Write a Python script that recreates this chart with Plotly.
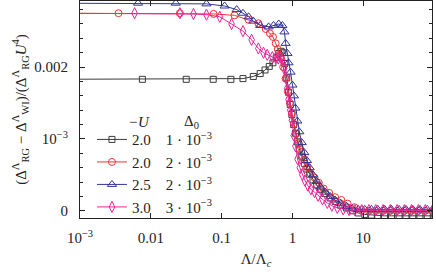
import plotly.graph_objects as go

# ---- data ----
lam_1 = [0.0004, 0.0076, 0.0316, 0.076, 0.135, 0.2, 0.28, 0.35, 0.41, 0.47, 0.53, 0.59, 0.64, 0.69, 0.73,
         0.78, 0.83, 0.88, 0.93, 0.98, 1.04, 1.1, 1.17, 1.25, 1.35, 1.47, 1.6, 1.75, 1.95, 2.2, 2.5, 2.9,
         3.4, 4.0, 4.8, 5.8, 7.0, 8.5, 10.5, 13, 16, 20, 25, 32, 40, 50, 63, 80, 100]
val_1 = [0.00183, 0.00183, 0.00183, 0.00183, 0.00183, 0.00184, 0.00187, 0.00191, 0.00196, 0.00201, 0.00206,
         0.00213, 0.00219, 0.00222, 0.00220, 0.00205, 0.00185, 0.00165, 0.00148, 0.00134, 0.00120, 0.00108,
         0.00096, 0.00086, 0.00076, 0.00066, 0.00058, 0.00051, 0.00043, 0.00036, 0.00030, 0.00024, 0.00018,
         0.00013, 0.00008, 0.00004, 0.00000, -0.00003, -0.00005, -0.00006, -0.00007, -0.00007, -0.00007,
         -0.00007, -0.00007, -0.00007, -0.00007, -0.00007, -0.00007]

lam_2 = [0.0004, 0.0035, 0.0257, 0.077, 0.152, 0.24, 0.33, 0.42, 0.48, 0.53, 0.58, 0.62, 0.68, 0.74, 0.8,
         0.86, 0.92, 0.98, 1.05, 1.13, 1.22, 1.33, 1.46, 1.62, 1.8, 2.05, 2.35, 2.75, 3.3, 4.0, 4.9, 6.0,
         7.5, 9.5, 12, 15, 19, 24, 30, 38, 48, 60, 75, 95]
val_2 = [0.00275, 0.00275, 0.00275, 0.00274, 0.00272, 0.00266, 0.00261, 0.00253, 0.00247, 0.00242, 0.00233,
         0.00225, 0.00214, 0.00200, 0.00184, 0.00166, 0.00150, 0.00136, 0.00121, 0.00107, 0.00094, 0.00082,
         0.00071, 0.00061, 0.00052, 0.00046, 0.00039, 0.00031, 0.00025, 0.00019, 0.00015, 0.00010, 0.00005,
         0.00001, 0.00000, 0.00000, 0.00000, 0.00000, 0.00000, 0.00000, 0.00000, 0.00000, 0.00000, 0.00000]

lam_3 = [0.0004, 0.0066, 0.0225, 0.061, 0.11, 0.163, 0.2, 0.24, 0.28, 0.35, 0.46, 0.54, 0.64, 0.72, 0.77,
         0.8, 0.85, 0.88, 0.94, 1.0, 1.05, 1.1, 1.17, 1.25, 1.35, 1.47, 1.6, 1.75, 1.95, 2.2, 2.5, 2.9, 3.4,
         4.0, 4.8, 5.8, 7.0, 8.5, 10.5, 13, 16, 20, 25, 32, 40, 50, 63, 80, 100]
val_3 = [0.00289, 0.00289, 0.00289, 0.00288, 0.00285, 0.00280, 0.00275, 0.00270, 0.00264, 0.00258, 0.00256,
         0.00258, 0.00260, 0.00258, 0.00249, 0.00233, 0.00219, 0.00206, 0.00193, 0.00175, 0.00160, 0.00143,
         0.00125, 0.00110, 0.00095, 0.00081, 0.00070, 0.00060, 0.00050, 0.00041, 0.00033, 0.00026, 0.00020,
         0.00015, 0.00010, 0.00006, 0.00003, 0.00002, 0.00002, 0.00002, 0.00002, 0.00002, 0.00002, 0.00002,
         0.00002, 0.00002, 0.00002, 0.00002, 0.00002]

lam_4 = [0.0004, 0.0059, 0.0257, 0.04, 0.061, 0.094, 0.138, 0.2, 0.265, 0.33, 0.39, 0.44, 0.52, 0.58, 0.63,
         0.68, 0.72, 0.76, 0.8, 0.84, 0.88, 0.93, 0.98, 1.04, 1.1, 1.18, 1.27, 1.38, 1.5, 1.65, 1.82, 2.05,
         2.3, 2.65, 3.1, 3.6, 4.3, 5.2, 6.3, 7.6, 9.5, 12, 15, 19, 24, 30, 38, 48, 60, 75, 95]
val_4 = [0.00275, 0.00275, 0.00275, 0.00274, 0.00273, 0.00270, 0.00260, 0.00250, 0.00238, 0.00226, 0.00220,
         0.00217, 0.00214, 0.00213, 0.00212, 0.00213, 0.00210, 0.00198, 0.00185, 0.00170, 0.00155, 0.00140,
         0.00126, 0.00105, 0.00090, 0.00072, 0.00060, 0.00050, 0.00042, 0.00035, 0.00030, 0.00026, 0.00021,
         0.00016, 0.00011, 0.00007, 0.00004, 0.00002, 0.00001, 0.00001, 0.00001, 0.00001, 0.00001, 0.00001,
         0.00001, 0.00001, 0.00001, 0.00001, 0.00001, 0.00001, 0.00001]

series_names = ["2.0\u00a0\u00a0\u00a0\u00a01 · 10<sup>−3</sup>",
                "2.0\u00a0\u00a0\u00a0\u00a02 · 10<sup>−3</sup>",
                "2.5\u00a0\u00a0\u00a0\u00a02 · 10<sup>−3</sup>",
                "3.0\u00a0\u00a0\u00a0\u00a03 · 10<sup>−3</sup>"]

x_tickvals = [0.001, 0.01, 0.1, 1, 10]
x_ticktext = ["10<sup>−3</sup>", "0.01", "0.1", "1", "10"]
y_tickvals = [0, 0.001, 0.002]
y_ticktext = ["0", "10<sup>−3</sup>", "0.002"]

# ---- styles ----
colors = ["#3a3a3a", "#f23333", "#33339a", "#ee2299"]
symbols = ["square-open", "circle-open", "triangle-up-open", "diamond-tall-open"]
msizes = [6, 7, 8, 8]

FONT = "Liberation Serif, Times New Roman, DejaVu Serif, serif"

fig = go.Figure()
for lam, val, name, c, s, ms in zip([lam_1, lam_2, lam_3, lam_4], [val_1, val_2, val_3, val_4],
                                    series_names, colors, symbols, msizes):
    fig.add_trace(go.Scatter(x=lam, y=val, name=name, mode="lines+markers",
                             line=dict(color=c, width=1),
                             marker=dict(symbol=s, size=ms, color=c, line=dict(color=c, width=1))))

fig.update_layout(
    width=436, height=276,
    margin=dict(l=80, r=4, t=1, b=58, autoexpand=False),
    paper_bgcolor="white", plot_bgcolor="white",
    font=dict(family=FONT, size=15, color="#222"),
    legend=dict(x=0.034, y=0.437, xanchor="left", yanchor="top", bgcolor="rgba(0,0,0,0)",
                font=dict(family=FONT, size=15), itemwidth=30, tracegroupgap=0),
    annotations=[
        dict(x=0.13, y=0.442, xref="paper", yref="paper", xanchor="left", yanchor="middle",
             text="<i>−U</i>", showarrow=False, font=dict(family=FONT, size=15)),
        dict(x=0.29, y=0.442, xref="paper", yref="paper", xanchor="left", yanchor="middle",
             text="Δ<sub>0</sub>", showarrow=False, font=dict(family=FONT, size=15)),
    ],
)
fig.update_xaxes(type="log", range=[-3, 1.97], tickvals=x_tickvals, ticktext=x_ticktext,
                 ticks="inside", ticklen=5, tickcolor="#222", showline=True, linecolor="#222",
                 linewidth=1, mirror="ticks", showgrid=False, zeroline=False, automargin=False,
                 tickfont=dict(family=FONT, size=15), ticklabelstandoff=6,
                 title=dict(text="Λ/Λ<sub><i>c</i></sub>", font=dict(family=FONT, size=15), standoff=8))
fig.update_yaxes(range=[-0.0001, 0.00292], tickvals=y_tickvals, ticktext=y_ticktext,
                 ticks="inside", ticklen=5, tickcolor="#222", showline=True, linecolor="#222",
                 linewidth=1, mirror="ticks", showgrid=False, zeroline=False, automargin=False,
                 tickfont=dict(family=FONT, size=15), ticklabelstandoff=8,
                 minor=dict(dtick=0.0002, ticks="inside", ticklen=3, tickcolor="#222", showgrid=False),
                 title=dict(text="(Δ<sup>Λ</sup><sub>RG</sub> − Δ<sup>Λ</sup><sub>WI</sub>)/(Δ<sup>Λ</sup><sub>RG</sub><i>U</i><sup>4</sup>)",
                            font=dict(family=FONT, size=15), standoff=4))

fig.write_html("out.html", config={"displayModeBar": False},
               post_script="document.body.style.margin='0';document.body.style.padding='0';")
